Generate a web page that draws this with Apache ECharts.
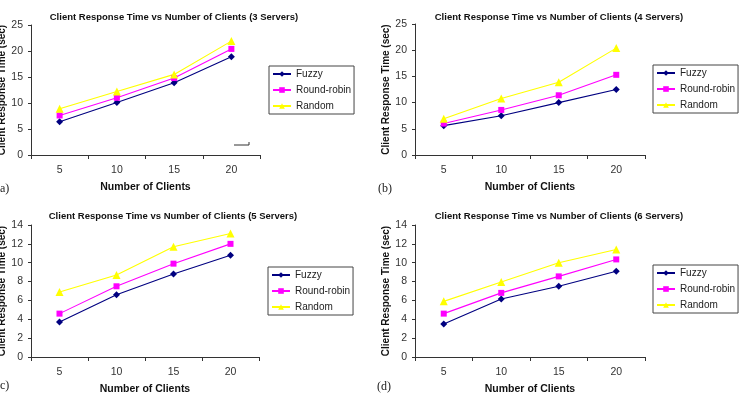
<!DOCTYPE html>
<html>
<head>
<meta charset="utf-8">
<script src="https://cdn.jsdelivr.net/npm/echarts@6/dist/echarts.min.js"></script>
<style>
  html, body { margin: 0; padding: 0; background: #fff; }
  #chart { width: 739px; height: 398px; }
</style>
</head>
<body>
<div id="chart"></div>
<script>
// data
const clients = ['5', '10', '15', '20']
const seriesNames = ['Fuzzy', 'Round-robin', 'Random']
const serverCounts = [3, 4, 5, 6]
const panelTags = ['(a)', '(b)', '(c)', '(d)']

const fuzzy3 = [6.4, 10.1, 13.9, 18.9]
const roundRobin3 = [7.6, 11.0, 14.8, 20.4]
const random3 = [8.9, 12.2, 15.5, 21.9]

const fuzzy4 = [5.6, 7.5, 10.0, 12.5]
const roundRobin4 = [6.0, 8.6, 11.4, 15.3]
const random4 = [6.9, 10.8, 13.9, 20.4]

const fuzzy5 = [3.7, 6.6, 8.8, 10.8]
const roundRobin5 = [4.6, 7.5, 9.9, 12.0]
const random5 = [6.9, 8.7, 11.7, 13.1]

const fuzzy6 = [3.5, 6.15, 7.5, 9.1]
const roundRobin6 = [4.6, 6.8, 8.55, 10.35]
const random6 = [5.9, 7.95, 10.0, 11.4]

const yMax = [25, 25, 14, 14]
const yStep = [5, 5, 2, 2]

const panelData = [
  [fuzzy3, roundRobin3, random3],
  [fuzzy4, roundRobin4, random4],
  [fuzzy5, roundRobin5, random5],
  [fuzzy6, roundRobin6, random6]
]

const colors = ['#000080', '#ff00ff', '#ffff00']
const symbols = ['diamond', 'rect', 'triangle']
const symbolSizes = [7, 6, 8]

const font = "'Liberation Sans', Arial, sans-serif"

// layout of the four panels
const grids = [
  { left: 31, right: 479, top: 25, bottom: 243 },
  { left: 415, right: 94, top: 24, bottom: 243 },
  { left: 31, right: 480, top: 225, bottom: 41 },
  { left: 415, right: 94, top: 225, bottom: 41 }
]
const titlePos = [
  { x: 169, y: 7 },
  { x: 554, y: 7 },
  { x: 168, y: 206 },
  { x: 554, y: 206 }
]
const legendPos = [
  { left: 269, top: 66 },
  { left: 653, top: 65 },
  { left: 268, top: 267 },
  { left: 653, top: 265 }
]
const tagPos = [
  { x: -4, y: 183 },
  { x: 378, y: 183 },
  { x: -4, y: 380 },
  { x: 377, y: 381 }
]

let chart = echarts.init(document.getElementById('chart'))

let option = {
  backgroundColor: '#fff',
  animation: false,
  title: [],
  legend: [],
  grid: [],
  xAxis: [],
  yAxis: [],
  series: [],
  graphic: []
}

serverCounts.forEach((n, i) => {
  option.title.push({
    text: 'Client Response Time vs Number of Clients (' + n + ' Servers)',
    left: titlePos[i].x,
    top: titlePos[i].y,
    textAlign: 'center',
    textStyle: { fontFamily: font, fontSize: 9.5, fontWeight: 'bold', color: '#111' }
  })
  // keep the plot where it is, even if the labels run off the canvas
  option.grid.push(Object.assign({ outerBoundsMode: 'none', containLabel: false }, grids[i]))
  option.xAxis.push({
    type: 'category',
    gridIndex: i,
    data: clients,
    boundaryGap: true,
    name: 'Number of Clients',
    nameLocation: 'middle',
    nameGap: 27,
    nameTextStyle: { fontFamily: font, fontSize: 10.5, fontWeight: 'bold', color: '#111' },
    axisLine: { lineStyle: { color: '#333', width: 1 } },
    axisTick: { show: true, length: 4, lineStyle: { color: '#333' } },
    axisLabel: { fontFamily: font, fontSize: 10.5, color: '#333', margin: 10 },
    splitLine: { show: false }
  })
  option.yAxis.push({
    type: 'value',
    gridIndex: i,
    min: 0,
    max: yMax[i],
    interval: yStep[i],
    name: 'Client Response Time (sec)',
    nameLocation: 'middle',
    nameGap: 24,
    nameTextStyle: { fontFamily: font, fontSize: 10, fontWeight: 'bold', color: '#111' },
    axisLine: { show: true, lineStyle: { color: '#333', width: 1 } },
    axisTick: { show: true, length: 3, lineStyle: { color: '#333' } },
    axisLabel: { fontFamily: font, fontSize: 10.5, color: '#333', margin: 8 },
    splitLine: { show: false }
  })
  seriesNames.forEach((name, k) => {
    option.series.push({
      name: name,
      type: 'line',
      xAxisIndex: i,
      yAxisIndex: i,
      data: panelData[i][k],
      symbol: symbols[k],
      symbolSize: symbolSizes[k],
      showAllSymbol: true,
      color: colors[k],
      lineStyle: { width: 1.1, color: colors[k] },
      itemStyle: { color: colors[k] }
    })
  })
  // legend box with border, one per panel
  option.legend.push({
    data: seriesNames,
    orient: 'vertical',
    left: legendPos[i].left,
    top: legendPos[i].top,
    selectedMode: false,
    borderColor: '#444',
    borderWidth: 1,
    padding: [3, 3, 3, 3],
    itemGap: 6,
    itemWidth: 18,
    itemHeight: 7,
    textStyle: { fontFamily: font, fontSize: 10, color: '#222' }
  })
  option.graphic.push({
    type: 'text',
    left: tagPos[i].x,
    top: tagPos[i].y,
    style: { text: panelTags[i], font: '12px "Liberation Serif", serif', fill: '#222' }
  })
})

// small stray mark in panel (a)
option.graphic.push({
  type: 'polyline',
  shape: { points: [[234, 145], [249, 145], [249, 142]] },
  style: { stroke: '#333', lineWidth: 1, fill: null }
})

chart.setOption(option)
</script>
</body>
</html>
